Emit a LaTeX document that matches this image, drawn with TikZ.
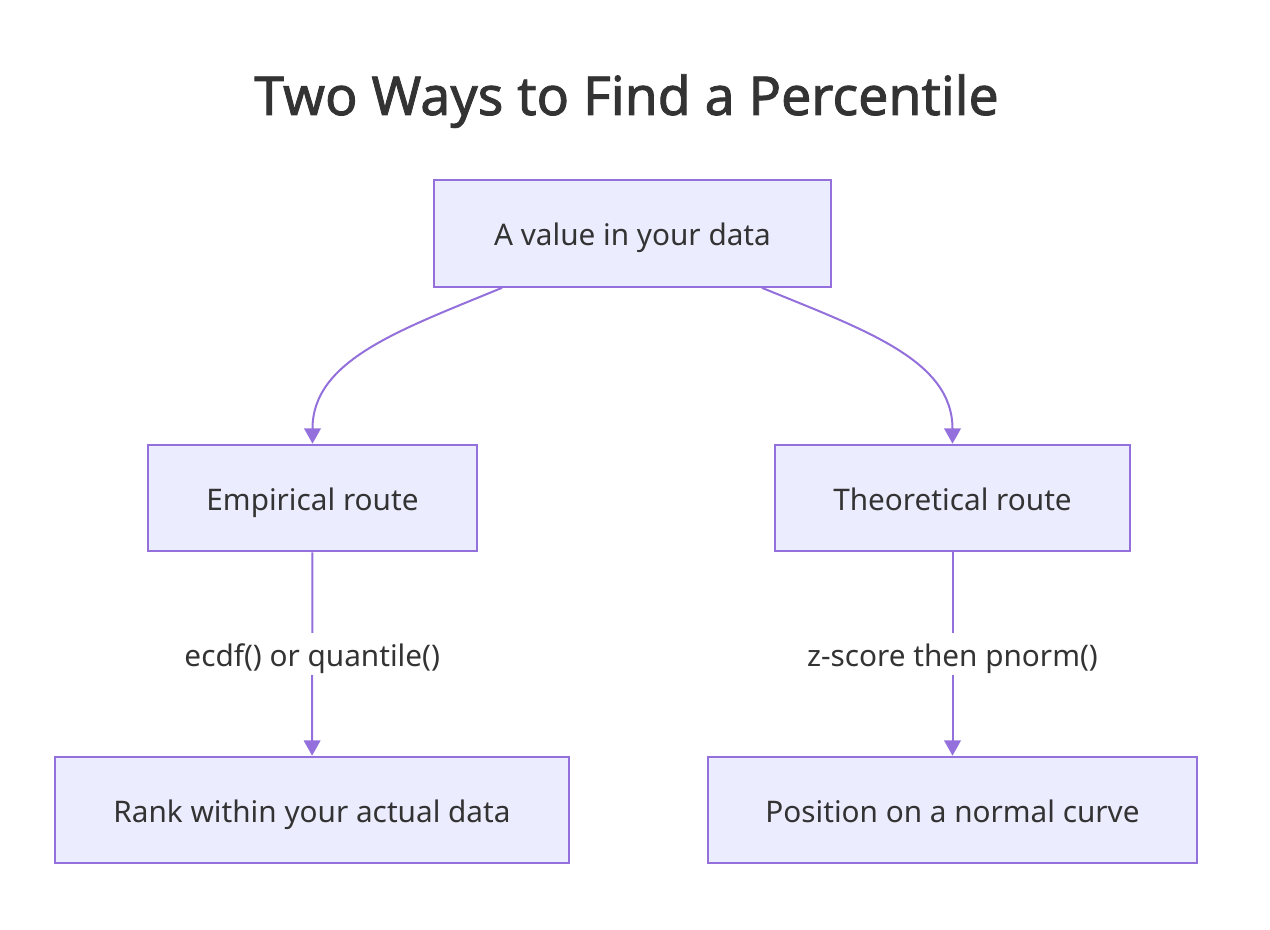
\documentclass[tikz,border=0pt]{standalone}
\usepackage{fontspec}
\setmainfont{Noto Sans}
\newfontfamily\titlefont{Noto Sans}[AutoFakeBold=1.6]
\usetikzlibrary{arrows.meta}
\definecolor{boxfill}{HTML}{ECECFF}
\definecolor{boxline}{HTML}{9370DB}
\definecolor{inkgray}{HTML}{333333}

\begin{document}
\begin{tikzpicture}[x=0.75pt, y=-0.75pt,
  box/.style={draw=boxline, fill=boxfill, line width=1.5pt, text=inkgray,
    font=\fontsize{22.3}{26}\selectfont, inner sep=0pt, minimum height=80pt,
    text height=21pt, text depth=3pt},
  link/.style={draw=boxline, line width=1.5pt, -{Triangle[length=11.5pt,width=12.5pt]}},
  tag/.style={fill=white, text=inkgray, font=\fontsize{22.3}{26}\selectfont, inner sep=4pt,
    text height=21pt, text depth=3pt}]

% Page frame
\useasboundingbox (0,0) rectangle (1270,930);

% Title
\node[anchor=base, text=inkgray, font=\fontsize{40.2}{46}\titlefont\bfseries] (title) at (626.5,115) {Two Ways to Find a Percentile};

% Boxes
\node[box, minimum width=297.75pt] (A) at (632.5,233.5) {A value in your data};
\node[box, minimum width=246.75pt] (E) at (312.5,498) {Empirical route};
\node[box, minimum width=266.25pt] (T) at (952.5,498) {Theoretical route};
\node[box, minimum width=385.5pt] (R) at (312,810) {Rank within your actual data};
\node[box, minimum width=366.75pt] (P) at (952.5,810) {Position on a normal curve};

% Split from the top box
\draw[link] ([xshift=-97.9pt]A.south) .. controls (400,330) and (312.5,360) .. (E.north);
\draw[link] ([xshift=97.1pt]A.south) .. controls (865,330) and (952.5,360) .. (T.north);

% Routes down
\draw[link] (E) -- node[tag] (ecdf) {ecdf() or quantile()} (R);
\draw[link] (T) -- node[tag] (zscore) {z-score then pnorm()} (P);

\end{tikzpicture}
\end{document}
